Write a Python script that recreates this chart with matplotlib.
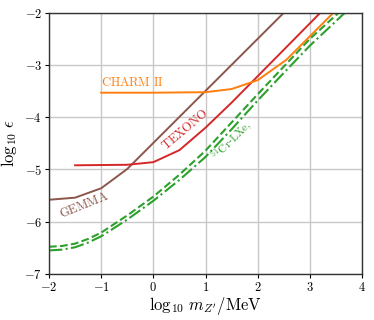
import matplotlib
matplotlib.use("Agg")
import matplotlib.pyplot as plt
import numpy as np

plt.rcParams['mathtext.fontset'] = 'cm'
plt.rcParams['font.family'] = 'serif'
plt.rcParams['font.serif'] = ['DejaVu Serif']

# data (log10 m_Z'/MeV, log10 eps)
gemma_x = [-2.0, -1.5, -1.0, -0.5, 2.5]
gemma_y = [-5.58, -5.54, -5.36, -4.99, -2.0]

texono_x = [-1.5, -0.5, 0.0, 0.5, 1.0, 1.5, 3.2]
texono_y = [-4.92, -4.91, -4.86, -4.63, -4.2, -3.72, -2.0]

charm_x = [-1.0, 0.0, 1.0, 1.5, 2.0, 2.55, 3.45]
charm_y = [-3.53, -3.53, -3.52, -3.46, -3.29, -2.9, -2.0]

cr_dash_x = [-2.0, -1.75, -1.5, -1.25, -1.0, -0.5, 0.0, 0.5, 1.0, 1.5, 2.0, 2.5, 3.0, 3.55]
cr_dash_y = [-6.48, -6.465, -6.42, -6.33, -6.21, -5.88, -5.52, -5.1, -4.64, -4.1, -3.56, -3.03, -2.5, -2.0]

cr_dd_x = [-2.0, -1.75, -1.5, -1.25, -1.0, -0.5, 0.0, 0.5, 1.0, 1.5, 2.0, 2.5, 3.0, 3.67]
cr_dd_y = [-6.55, -6.535, -6.49, -6.4, -6.28, -5.96, -5.6, -5.2, -4.76, -4.23, -3.68, -3.15, -2.63, -2.0]

xticks = [-2, -1, 0, 1, 2, 3, 4]
yticks = [-7, -6, -5, -4, -3, -2]

fig = plt.figure(figsize=(3.74, 3.2), dpi=100)
ax = fig.add_axes([0.131, 0.144, 0.837, 0.816])

lw = 1.4
ax.plot(gemma_x, gemma_y, color='#8c564b', lw=lw)
ax.plot(texono_x, texono_y, color='#d62728', lw=lw)
ax.plot(charm_x, charm_y, color='#ff7f0e', lw=lw)
ax.plot(cr_dash_x, cr_dash_y, color='#2ca02c', lw=1.5, ls='--')
ax.plot(cr_dd_x, cr_dd_y, color='#2ca02c', lw=1.5, ls='-.')

ax.text(-1.0, -3.40, r'$\mathrm{CHARM\ II}$', color='#ff7f0e', fontsize=9, ha='left', va='baseline')
ax.text(0.62, -4.23, r'$\mathrm{TEXONO}$', color='#d62728', fontsize=9, ha='center', va='center', rotation=40)
ax.text(-1.33, -5.68, r'$\mathrm{GEMMA}$', color='#8c564b', fontsize=9, ha='center', va='center', rotation=22)
ax.text(1.5, -4.45, r'$^{51}\mathrm{Cr}$-$\mathrm{LXe},$', color='#2ca02c', fontsize=8, ha='center', va='center', rotation=45)

ax.set_xlim(-2, 4)
ax.set_ylim(-7, -2)
ax.set_xticks(xticks)
ax.set_yticks(yticks)
ax.set_xticklabels([r'$%d$' % t for t in xticks], fontsize=9)
ax.set_yticklabels([r'$%d$' % t for t in yticks], fontsize=9)
ax.grid(True, color='#c8c8c8', lw=1.0)
ax.set_axisbelow(True)
ax.tick_params(direction='out', length=3, width=0.8, pad=2)
for s in ax.spines.values():
    s.set_linewidth(1.0)
    s.set_color('#333333')

ax.set_xlabel(r"$\log_{10}\, m_{Z'}/\mathrm{MeV}$", fontsize=12, labelpad=1)
ax.set_ylabel(r'$\log_{10}\, \epsilon$', fontsize=12, labelpad=4)

fig.savefig('out.png', dpi=100)
